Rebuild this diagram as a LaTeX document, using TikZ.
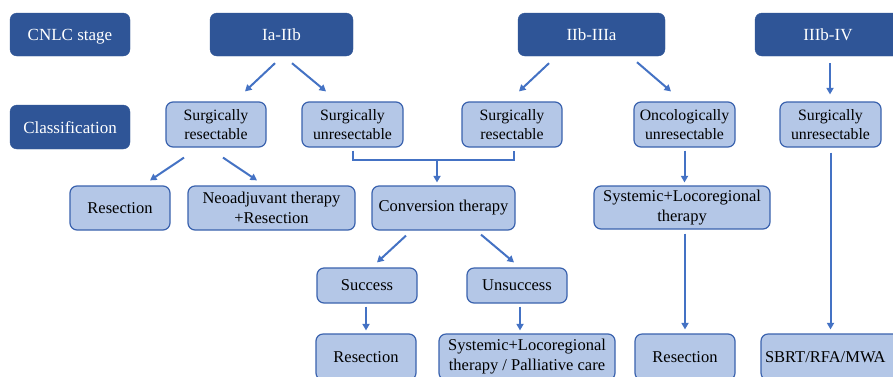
\documentclass[tikz,border=0pt]{standalone}
\usepackage{fontspec}
\setmainfont{Liberation Serif}
\usetikzlibrary{calc,arrows.meta}
\definecolor{darkb}{HTML}{2F5597}
\definecolor{lightb}{HTML}{B4C7E7}
\definecolor{edgeb}{HTML}{3A62AE}
\definecolor{arrb}{HTML}{4472C4}
\tikzset{
  stagebox/.style={fill=darkb, draw=darkb, rounded corners=7pt, text=white,
    font=\fontsize{17}{20}\selectfont, align=center, inner sep=0pt,
    text height=12.5pt, text depth=0pt},
  classbox/.style={fill=lightb, draw=edgeb, line width=1.2pt, rounded corners=7pt,
    text=black, font=\fontsize{15.8}{19}\selectfont, align=center, inner sep=0pt,
    minimum width=100pt, minimum height=45pt},
  treatbox/.style={fill=lightb, draw=edgeb, line width=1.2pt, rounded corners=7pt,
    text=black, font=\fontsize{16.5}{20}\selectfont, align=center, inner sep=0pt,
    minimum height=44pt},
  conn/.style={draw=arrb, line width=2pt},
  arr/.style={conn, -{Triangle[length=6.5pt,width=7pt]}},
}
\begin{document}
\begin{tikzpicture}[x=1pt,y=-1pt]
\useasboundingbox (0,0) rectangle (893,376);
\fill[white] (0,0) rectangle (893,376);
\clip (0,0) rectangle (893,376);
% stage row
\node[stagebox, minimum width=120pt, minimum height=43pt] (cnlc) at (70,34.5) {CNLC stage};
\node[stagebox, minimum width=120pt, minimum height=44pt] (cls) at (70,127) {Classification};
\node[stagebox, minimum width=143pt, minimum height=43pt] (s1) at (281.5,34.5) {Ia-IIb};
\node[stagebox, minimum width=147pt, minimum height=43pt] (s2) at (591.5,34.5) {IIb-IIIa};
\node[stagebox, minimum width=146pt, minimum height=43pt] (s3) at (828,34.5) {IIIb-IV};
% classification row
\node[classbox] (c1) at (216,124.5) {Surgically\\resectable};
\node[classbox, minimum width=101pt] (c2) at (352.5,124.5) {Surgically\\unresectable};
\node[classbox] (c3) at (512,124.5) {Surgically\\resectable};
\node[classbox, minimum width=101pt] (c4) at (684.5,124.5) {Oncologically\\unresectable};
\node[classbox, minimum width=101pt] (c5) at (830.5,124.5) {Surgically\\unresectable};
% treatment row
\node[treatbox, minimum width=100pt] (r1) at (120,208) {Resection};
\node[treatbox, minimum width=167pt] (neo) at (271.5,208) {Neoadjuvant therapy\\+Resection};
\node[treatbox, minimum width=143pt] (conv) at (443.5,208) {Conversion therapy};
\node[treatbox, minimum width=176pt, minimum height=43pt] (sys) at (682,207.5) {Systemic+Locoregional\\therapy};
% outcome row
\node[treatbox, minimum width=100pt, minimum height=35pt] (succ) at (367,285.5) {Success};
\node[treatbox, minimum width=100pt, minimum height=35pt] (unsucc) at (517,285.5) {Unsuccess};
% bottom row
\node[treatbox, minimum width=100pt, minimum height=46pt] (res2) at (366,357) {Resection};
\node[treatbox, minimum width=176pt, minimum height=46pt] (pall) at (527,357) {Systemic+Locoregional\\therapy / Palliative care};
\node[treatbox, minimum width=100pt, minimum height=46pt] (res3) at (685,357) {Resection};
\node[treatbox, minimum width=144pt, minimum height=46pt, text width=136pt, align=left] (sbrt) at (833,357) {SBRT/RFA/MWA};
% arrows
\draw[arr] ($(s1.south)+(-6.5,7)$) -- ($(c1.north)+(29,-10)$);
\draw[arr] ($(s1.south)+(10.5,7)$) -- ($(c2.north)+(-26.5,-10)$);
\draw[arr] ($(s2.south)+(-42.5,7)$) -- ($(c3.north)+(7,-10)$);
\draw[arr] ($(s2.south)+(45.5,6)$) -- ($(c4.north)+(-13.5,-10)$);
\draw[arr] ($(s3.south)+(2,7)$) -- ($(c5.north)+(-0.5,-7)$);
\draw[arr] ($(c1.south)+(-32,10)$) -- ($(r1.north)+(30,-5)$);
\draw[arr] ($(c1.south)+(7,10)$) -- ($(neo.north)+(-14.5,-5)$);
\coordinate (j) at ($(c3.south)+(-75,12)$);
\draw[conn] ($(c2.south)+(0,3)$) |- ($(c3.south)+(2,12)$) -- ($(c3.south)+(2,3)$);
\draw[arr] (j) -- ($(conv.north)+(-6.5,-3)$);
\draw[arr] ($(c4.south)+(0,3)$) -- ($(sys.north)+(2.5,-3)$);
\draw[arr] ($(conv.south)+(-37.5,5)$) -- ($(succ.north)+(10,-5)$);
\draw[arr] ($(conv.south)+(37.5,4)$) -- ($(unsucc.north)+(-3,-5)$);
\draw[arr] ($(succ.south)+(-1,3)$) -- ($(res2.north)+(0,-3)$);
\draw[arr] ($(unsucc.south)+(3,3)$) -- ($(pall.north)+(-7,-3)$);
\draw[arr] ($(sys.south)+(3,4)$) -- ($(res3.north)+(0,-4)$);
\draw[arr] ($(c5.south)+(0,5)$) -- ($(sbrt.north)+(-2.5,-4)$);
\end{tikzpicture}
\end{document}
